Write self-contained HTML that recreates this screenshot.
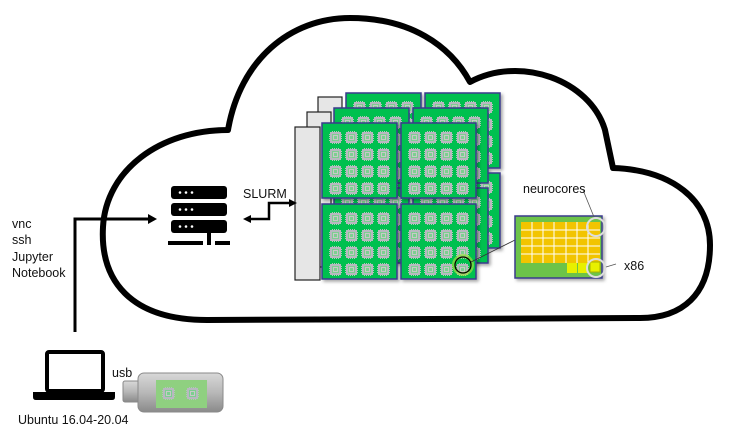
<!DOCTYPE html>
<html><head><meta charset="utf-8"><style>
html,body{margin:0;padding:0;background:#fff}
svg{display:block}
text{font-family:"Liberation Sans",sans-serif;fill:#111}
</style></head><body>
<svg width="740" height="444" viewBox="0 0 740 444" xmlns="http://www.w3.org/2000/svg">
<defs>
<g id="chip">
<rect x="2" y="2" width="9" height="9" fill="#7ccf90" stroke="#b8b8c0" stroke-width="2"/>
<rect x="4.5" y="4.5" width="4" height="4" fill="none" stroke="#c8c8c8" stroke-width="1"/>
<path d="M3 0.5h7M3 12.5h7M0.5 3v7M12.5 3v7" stroke="#b0c8b8" stroke-width="1" stroke-dasharray="1 1"/>
</g>
<g id="row"><use href="#chip" x="7"/><use href="#chip" x="23"/><use href="#chip" x="39"/><use href="#chip" x="55"/></g>
<g id="board">
<rect x="0" y="0" width="75" height="75" fill="#00c050" stroke="#3b3b8c" stroke-width="1.5"/>
<use href="#row" y="8"/><use href="#row" y="25"/><use href="#row" y="42"/><use href="#row" y="59"/>
</g>
<filter id="sh" x="-10%" y="-10%" width="130%" height="130%"><feDropShadow dx="2" dy="2" stdDeviation="1.5" flood-color="#000" flood-opacity="0.35"/></filter>
</defs>

<!-- cloud -->
<path d="M207,320 C130,320 100,280 103,227 C106,170 160,130 228,130 C240,60 290,18 350,18 C410,18 450,45 470,82 C520,55 590,80 605,130 L613,168 C672,170 710,200 710,245 C710,295 682,318 640,318 Z" fill="#fff" stroke="#000" stroke-width="6" stroke-linejoin="round"/>

<!-- panels -->
<rect x="318" y="97" width="24" height="150" fill="#e6e6e6" stroke="#222" stroke-width="1.2"/>
<rect x="307" y="112" width="24" height="155" fill="#e6e6e6" stroke="#222" stroke-width="1.2"/>

<!-- back layer -->
<g filter="url(#sh)">
<use href="#board" x="346" y="93"/><use href="#board" x="425" y="93"/>
<use href="#board" x="346" y="173"/><use href="#board" x="425" y="173"/>
<use href="#board" x="334" y="108"/><use href="#board" x="413" y="108"/>
<use href="#board" x="334" y="188"/><use href="#board" x="413" y="188"/>
</g>
<rect x="295" y="127" width="25" height="153" fill="#e6e6e6" stroke="#222" stroke-width="1.2"/>
<g filter="url(#sh)">
<use href="#board" x="322" y="123"/><use href="#board" x="401" y="123"/>
<use href="#board" x="322" y="204"/><use href="#board" x="401" y="204"/>
</g>
<circle cx="463" cy="265" r="9" fill="none" stroke="#9be040" stroke-width="4" opacity="0.7"/>
<circle cx="463" cy="265" r="8" fill="none" stroke="#000" stroke-width="1.3"/>
<line x1="471" y1="262" x2="515" y2="240" stroke="#333" stroke-width="0.8"/>

<!-- neuro chip -->
<rect x="515" y="216" width="87" height="62" fill="#6cc34a" stroke="#3b3b8c" stroke-width="1.5" filter="url(#sh)"/>
<rect x="521" y="222" width="79" height="41" fill="#f2c400"/>
<g stroke="#fff" stroke-width="1">
<path d="M532 222v41M543 222v41M554 222v41M566 222v41M577 222v41M588 222v41"/>
<path d="M521 230h79M521 238h79M521 246h79M521 254h79"/>
</g>
<rect x="567" y="263" width="10" height="10" fill="#e8f000"/>
<rect x="578" y="263" width="10" height="10" fill="#e8f000"/>
<rect x="590" y="262" width="10" height="10" fill="#e8f000" stroke="#aab000"/>
<circle cx="596" cy="227" r="9" fill="none" stroke="#ddd" stroke-width="2"/>
<circle cx="596" cy="268" r="9" fill="none" stroke="#ddd" stroke-width="2"/>
<line x1="583" y1="190" x2="594" y2="217" stroke="#555" stroke-width="0.8"/>
<line x1="606" y1="267" x2="616" y2="264" stroke="#555" stroke-width="0.8"/>
<text x="523" y="193" font-size="12.5">neurocores</text>
<text x="624" y="270" font-size="12.5">x86</text>

<!-- server -->
<g fill="#000">
<rect x="171" y="186" width="56" height="13" rx="3"/>
<rect x="171" y="203" width="56" height="13" rx="3"/>
<rect x="171" y="220" width="56" height="13" rx="3"/>
<rect x="207" y="233" width="4" height="8"/>
<rect x="168" y="241" width="35" height="4"/>
<rect x="207" y="241" width="4" height="4"/>
<rect x="215" y="241" width="15" height="4"/>
</g>
<g fill="#fff">
<circle cx="180" cy="192.5" r="1.3"/><circle cx="186" cy="192.5" r="1.3"/><circle cx="192" cy="192.5" r="1.3"/>
<circle cx="180" cy="209.5" r="1.3"/><circle cx="186" cy="209.5" r="1.3"/><circle cx="192" cy="209.5" r="1.3"/>
<circle cx="180" cy="226.5" r="1.3"/><circle cx="186" cy="226.5" r="1.3"/><circle cx="192" cy="226.5" r="1.3"/>
</g>

<!-- arrows -->
<path d="M75,332 V219 H150" fill="none" stroke="#000" stroke-width="3"/>
<path d="M157,219 L148,214 L148,224 Z" fill="#000"/>
<path d="M250,219 H269 V203 H290" fill="none" stroke="#000" stroke-width="2.5"/>
<path d="M243,219 L251,215 L251,223 Z" fill="#000"/>
<path d="M297,203 L289,199 L289,207 Z" fill="#000"/>
<text x="243" y="198" font-size="12.5">SLURM</text>

<text x="12" y="228" font-size="12.5">vnc</text>
<text x="12" y="244" font-size="12.5">ssh</text>
<text x="12" y="261" font-size="12.5">Jupyter</text>
<text x="12" y="277" font-size="12.5">Notebook</text>

<!-- laptop -->
<rect x="47" y="352" width="56" height="39" rx="2" fill="none" stroke="#000" stroke-width="4"/>
<path d="M33,392 H115 V397 Q115,400 112,400 H36 Q33,400 33,397 Z" fill="#000"/>
<text x="112" y="377" font-size="12.5">usb</text>

<!-- usb stick -->
<defs><linearGradient id="gs" x1="0" y1="0" x2="0" y2="1"><stop offset="0" stop-color="#d8d8d8"/><stop offset="0.5" stop-color="#b8b8b8"/><stop offset="1" stop-color="#8a8a8a"/></linearGradient></defs>
<rect x="123" y="381" width="18" height="21" rx="2" fill="url(#gs)" stroke="#888"/>
<rect x="138" y="373" width="85" height="39" rx="6" fill="url(#gs)" stroke="#8a8a8a"/>
<rect x="156" y="380" width="51" height="28" fill="#8fd080"/>
<use href="#chip" x="162" y="387"/>
<use href="#chip" x="186" y="387"/>
<text x="18" y="424" font-size="12.5">Ubuntu 16.04-20.04</text>
</svg>
</body></html>
